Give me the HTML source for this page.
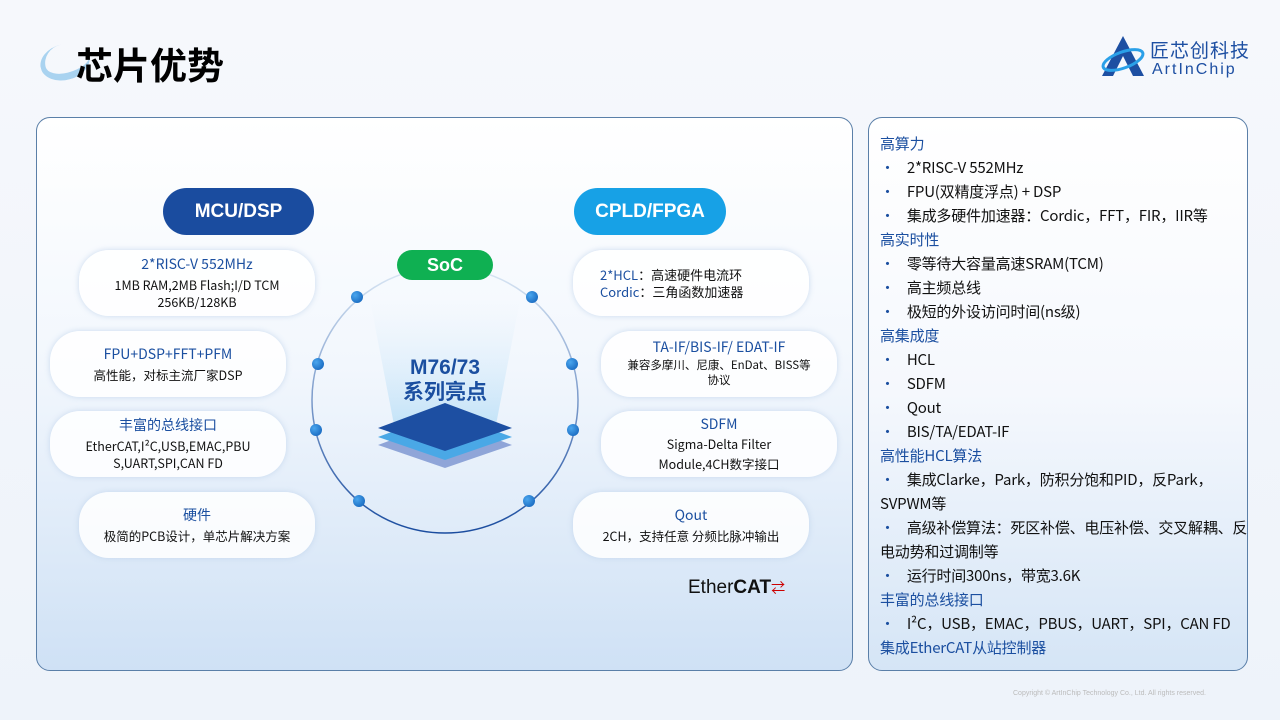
<!DOCTYPE html>
<html><head><meta charset="utf-8"><style>
*{margin:0;padding:0;box-sizing:border-box}
body{width:1280px;height:720px;position:relative;overflow:hidden;background:linear-gradient(#f6f8fc,#eef3fa);font-family:"Liberation Sans","Noto Sans CJK SC",sans-serif}
.abs{position:absolute}
.panel{border:1px solid #5a7fa8;border-radius:14px;background:linear-gradient(#fff 0%,#f2f7fd 45%,#cfe1f5 100%)}
.pill{position:absolute;border-radius:25px;color:#fff;font-weight:bold;font-size:19px;display:flex;align-items:center;justify-content:center;z-index:2}
.card{position:absolute;border-radius:30px;background:rgba(255,255,255,.85);box-shadow:0 0 6px rgba(190,210,235,.8);text-align:center;font-size:12.5px;color:#111;line-height:17px;display:flex;flex-direction:column;justify-content:center;font-family:"Noto Sans CJK SC","Liberation Sans",sans-serif}
.card b{color:#1b4fa0;font-weight:normal;font-size:14px;margin-bottom:3px}
.dot{position:absolute;width:12px;height:12px;border-radius:50%;background:radial-gradient(circle at 35% 35%,#4aa6ee,#0d5bb5)}
.r{font-size:15px;line-height:24px;color:#111;white-space:nowrap;font-family:"Noto Sans CJK SC","Liberation Sans",sans-serif;letter-spacing:-0.2px}
.r div{height:24px}
.r .h{color:#1b4fa0}
.r .b:before{content:"•";color:#1b4fa0;margin-right:12px}
</style></head><body>
<div class="abs" style="left:40px;top:44px;width:50px;height:36px;border-radius:50%;border-bottom:7px solid #a9d3f0;border-left:5px solid #a9d3f0;transform:rotate(-15deg)"></div>
<div class="abs" style="left:76px;top:36px;font-size:37px;font-weight:bold;color:#000">芯片优势</div>
<svg class="abs" style="left:1100px;top:34px" width="46" height="44"><polygon points="23,2 44,42 33,42 23,22 13,42 2,42" fill="#1d4fa2"/><ellipse cx="23" cy="26" rx="21" ry="8" fill="none" stroke="#2aa0e8" stroke-width="3" transform="rotate(-20 23 26)"/></svg>
<div class="abs" style="left:1150px;top:36px;font-size:19px;color:#1d4fa2;letter-spacing:1px">匠芯创科技</div>
<div class="abs" style="left:1152px;top:61px;font-size:16px;color:#1d4fa2;letter-spacing:2px">ArtInChip</div>

<div class="abs panel" style="left:36px;top:117px;width:817px;height:554px"></div>
<div class="abs panel" style="left:868px;top:117px;width:380px;height:554px;background:linear-gradient(#fff 0%,#f5f8fd 50%,#d5e5f6 100%)"></div>

<div class="pill" style="left:163px;top:188px;width:151px;height:47px;background:#1a4c9f">MCU/DSP</div>
<div class="pill" style="left:574px;top:188px;width:152px;height:47px;background:#17a1e6">CPLD/FPGA</div>

<svg class="abs" style="left:0;top:0" width="1280" height="720">
<defs><linearGradient id="g" x1="0" y1="0" x2="0" y2="1"><stop offset="0" stop-color="#dbe8f5"/><stop offset="1" stop-color="#1a4c9f"/></linearGradient>
<linearGradient id="beam" x1="0" y1="0" x2="0" y2="1"><stop offset="0" stop-color="#cfe6f8" stop-opacity="0"/><stop offset="1" stop-color="#8ccdf3" stop-opacity=".45"/></linearGradient></defs>
<circle cx="445" cy="400" r="133" fill="none" stroke="url(#g)" stroke-width="1.5"/>
<polygon points="370,300 520,300 495,430 395,430" fill="url(#beam)"/>
<polygon points="378,445 445,420 512,445 445,468" fill="#8fa5d8"/>
<polygon points="378,437 445,412 512,437 445,460" fill="#4aa8e6"/>
<polygon points="378,428 445,403 512,428 445,451" fill="#1d4fa2"/>
</svg>
<div class="pill" style="left:397px;top:250px;width:96px;height:30px;background:#0fb052;font-size:18px">SoC</div>
<div class="abs" style="left:380px;top:355px;width:130px;text-align:center;color:#1b4fa0;font-size:21px;line-height:25px;font-weight:bold">M76/73<br>系列亮点</div>
<div class="dot" style="left:351px;top:291px"></div><div class="dot" style="left:526px;top:291px"></div>
<div class="dot" style="left:312px;top:358px"></div><div class="dot" style="left:566px;top:358px"></div>
<div class="dot" style="left:310px;top:424px"></div><div class="dot" style="left:567px;top:424px"></div>
<div class="dot" style="left:353px;top:495px"></div><div class="dot" style="left:523px;top:495px"></div>

<div class="card" style="left:79px;top:250px;width:236px;height:66px"><b>2*RISC-V 552MHz</b>1MB RAM,2MB Flash;I/D TCM<br>256KB/128KB</div>
<div class="card" style="left:50px;top:331px;width:236px;height:66px"><b>FPU+DSP+FFT+PFM</b>高性能，对标主流厂家DSP</div>
<div class="card" style="left:50px;top:411px;width:236px;height:66px"><b>丰富的总线接口</b>EtherCAT,I²C,USB,EMAC,PBU<br>S,UART,SPI,CAN FD</div>
<div class="card" style="left:79px;top:492px;width:236px;height:66px"><b>硬件</b>极简的PCB设计，单芯片解决方案</div>
<div class="card" style="left:573px;top:250px;width:236px;height:66px;text-align:left;padding-left:27px;font-size:13px"><div><span style="color:#1b4fa0">2*HCL</span>：高速硬件电流环</div><div><span style="color:#1b4fa0">Cordic</span>：三角函数加速器</div></div>
<div class="card" style="left:601px;top:331px;width:236px;height:66px;font-size:11.5px;line-height:15px"><b>TA-IF/BIS-IF/ EDAT-IF</b>兼容多摩川、尼康、EnDat、BISS等<br>协议</div>
<div class="card" style="left:601px;top:411px;width:236px;height:66px;line-height:20px"><b style="margin-bottom:0">SDFM</b>Sigma-Delta Filter<br>Module,4CH数字接口</div>
<div class="card" style="left:573px;top:492px;width:236px;height:66px"><b>Qout</b>2CH，支持任意 分频比脉冲输出</div>
<div class="abs" style="left:688px;top:577px;font-size:19px;color:#111">Ether<b>CAT</b><span style="color:#c00;font-size:14px">⇄</span></div>

<div class="abs r" style="left:880px;top:132px;width:362px">
<div class="h">高算力</div>
<div class="b">2*RISC-V 552MHz</div>
<div class="b">FPU(双精度浮点) + DSP</div>
<div class="b">集成多硬件加速器：Cordic，FFT，FIR，IIR等</div>
<div class="h">高实时性</div>
<div class="b">零等待大容量高速SRAM(TCM)</div>
<div class="b">高主频总线</div>
<div class="b">极短的外设访问时间(ns级)</div>
<div class="h">高集成度</div>
<div class="b">HCL</div>
<div class="b">SDFM</div>
<div class="b">Qout</div>
<div class="b">BIS/TA/EDAT-IF</div>
<div class="h">高性能HCL算法</div>
<div class="b">集成Clarke，Park，防积分饱和PID，反Park，</div>
<div>SVPWM等</div>
<div class="b">高级补偿算法：死区补偿、电压补偿、交叉解耦、反</div>
<div>电动势和过调制等</div>
<div class="b">运行时间300ns，带宽3.6K</div>
<div class="h">丰富的总线接口</div>
<div class="b">I²C，USB，EMAC，PBUS，UART，SPI，CAN FD</div>
<div class="h">集成EtherCAT从站控制器</div>
</div>
<div class="abs" style="left:1013px;top:690px;font-size:7px;color:#bbb">Copyright © ArtInChip Technology Co., Ltd. All rights reserved.</div>
</body></html>
